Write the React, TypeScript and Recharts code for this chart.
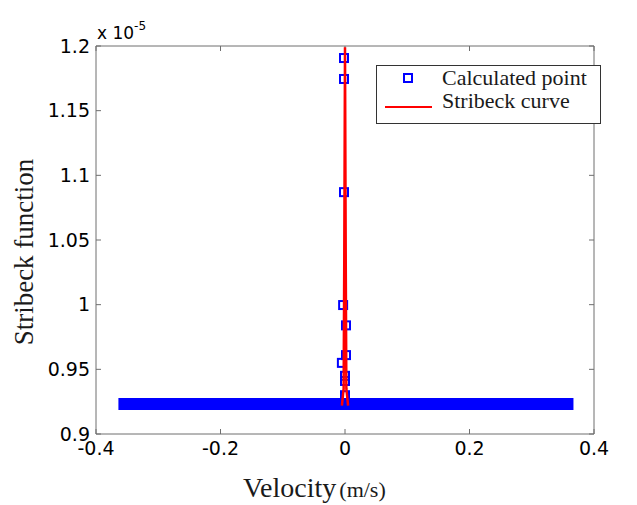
import { Label, Legend, Scatter, ScatterChart, XAxis, YAxis } from "recharts";

// axis ticks (Stribeck function in units of 1e-5)
const velocityTicks = [-0.4, -0.2, 0, 0.2, 0.4];
const stribeckTicks = [0.9, 0.95, 1, 1.05, 1.1, 1.15, 1.2];

// calculated points near zero velocity
const pointVelocity = [-0.0016, -0.0016, -0.0016, -0.003, 0.0016, 0.0016, -0.005, 0, 0, 0];
const pointValue = [1.1907, 1.1745, 1.087, 0.9997, 0.984, 0.961, 0.955, 0.945, 0.941, 0.93];

// the dense run of calculated points along the whole velocity range
const bandVelocity = [-0.364, 0.367];
const bandValue = [0.9232, 0.9232];

// fitted Stribeck curve
const curveVelocity = [-0.005, -0.0022, -0.0012, 0, 0.0012, 0.0022, 0.005];
const curveValue = [0.922, 0.935, 1.032, 1.199, 1.032, 0.935, 0.922];

const points = pointVelocity.map((x, i) => ({ x, y: pointValue[i] }));
const band = bandVelocity.map((x, i) => ({ x, y: bandValue[i] }));
const curve = curveVelocity.map((x, i) => ({ x, y: curveValue[i] }));

const BLUE = "#0000ff";
const RED = "#ff0000";
const AXIS = "#6e6e6e";
const tickFont = { fill: "#000", fontSize: 19, fontFamily: "DejaVu Sans" };
const serif = "Liberation Serif, Times New Roman, serif";

const fmt = (v: number) => String(v);
const blank = () => "";

function SquareMarker(props: any) {
  const { cx, cy } = props;
  if (cx == null || cy == null) return <g />;
  return <rect x={cx - 4} y={cy - 4} width={8} height={8} fill="none" stroke={BLUE} strokeWidth={2} />;
}

const NoMarker = () => <g />;

function YTitle(props: any) {
  const vb = props.viewBox;
  const cx = vb.x + 33;
  const cy = vb.y + vb.height / 2 + 12;
  return (
    <text x={cx} y={cy} transform={`rotate(-90 ${cx} ${cy})`} textAnchor="middle" fontFamily={serif} fontSize={27} fill="#1a1a1a">
      Stribeck function
    </text>
  );
}

function Exponent(props: any) {
  const vb = props.viewBox;
  return (
    <text x={vb.x + vb.width + 1} y={vb.y - 7} fontFamily="DejaVu Sans" fontSize={17} fill="#000">
      x 10
      <tspan fontSize={12} dy={-9}>-5</tspan>
    </text>
  );
}

function XTitle(props: any) {
  const vb = props.viewBox;
  return (
    <text x={vb.x + 147} y={vb.y + 63} fontFamily={serif} fill="#1a1a1a">
      <tspan fontSize={28}>Velocity</tspan>
      <tspan fontSize={22} dx={3}>(m/s)</tspan>
    </text>
  );
}

function LegendBox() {
  return (
    <svg width={226} height={60} style={{ display: "block" }}>
      <rect x={0.5} y={0.5} width={224} height={58} fill="#fff" stroke="#333" strokeWidth={1} />
      <rect x={28} y={9} width={8} height={8} fill="none" stroke={BLUE} strokeWidth={2} />
      <text x={66} y={20} fontFamily={serif} fontSize={22} fill="#1a1a1a">
        Calculated point
      </text>
      <line x1={9} x2={56} y1={42} y2={42} stroke={RED} strokeWidth={2} />
      <text x={66} y={43} fontFamily={serif} fontSize={22} fill="#1a1a1a">
        Stribeck curve
      </text>
    </svg>
  );
}

export default function App() {
  return (
    <div style={{ position: "absolute", left: 0, top: 0, background: "#fff" }}>
      <ScatterChart width={637} height={505} margin={{ top: 45, right: 42, left: 0, bottom: 0 }}>
        <XAxis
          type="number"
          dataKey="x"
          domain={[-0.4, 0.4]}
          ticks={velocityTicks}
          allowDataOverflow
          height={71}
          stroke={AXIS}
          tickSize={-5}
          tickMargin={13}
          tick={tickFont}
          tickFormatter={fmt}
        >
          <Label content={XTitle} />
        </XAxis>
        <XAxis
          xAxisId="top"
          orientation="top"
          type="number"
          dataKey="x"
          domain={[-0.4, 0.4]}
          ticks={velocityTicks}
          allowDataOverflow
          height={1}
          stroke={AXIS}
          tickSize={-5}
          tickFormatter={blank}
        />
        <YAxis
          type="number"
          dataKey="y"
          domain={[0.9, 1.2]}
          ticks={stribeckTicks}
          allowDataOverflow
          width={96}
          stroke={AXIS}
          tickSize={-5}
          tickMargin={11}
          tick={tickFont}
          tickFormatter={fmt}
        >
          <Label content={YTitle} />
          <Label content={Exponent} />
        </YAxis>
        <YAxis
          yAxisId="right"
          orientation="right"
          type="number"
          dataKey="y"
          domain={[0.9, 1.2]}
          ticks={stribeckTicks}
          allowDataOverflow
          width={1}
          stroke={AXIS}
          tickSize={-5}
          tickFormatter={blank}
        />
        <Legend
          layout="horizontal"
          verticalAlign="middle"
          align="center"
          content={LegendBox}
          wrapperStyle={{ left: 376, top: 65, width: 226, height: 60, right: "auto", bottom: "auto" }}
        />
        {/* invisible copy of the band so the mirrored box axes are drawn */}
        <Scatter
          name="frame"
          data={band}
          xAxisId="top"
          yAxisId="right"
          legendType="none"
          shape={NoMarker}
          isAnimationActive={false}
        />
        <Scatter
          name="band"
          data={band}
          legendType="none"
          shape={NoMarker}
          line={{ stroke: BLUE, strokeWidth: 12 }}
          isAnimationActive={false}
        />
        <Scatter name="Calculated point" data={points} shape={SquareMarker} isAnimationActive={false} />
        <Scatter
          name="Stribeck curve"
          data={curve}
          shape={NoMarker}
          line={{ stroke: RED, strokeWidth: 2.5 }}
          isAnimationActive={false}
        />
      </ScatterChart>
    </div>
  );
}
